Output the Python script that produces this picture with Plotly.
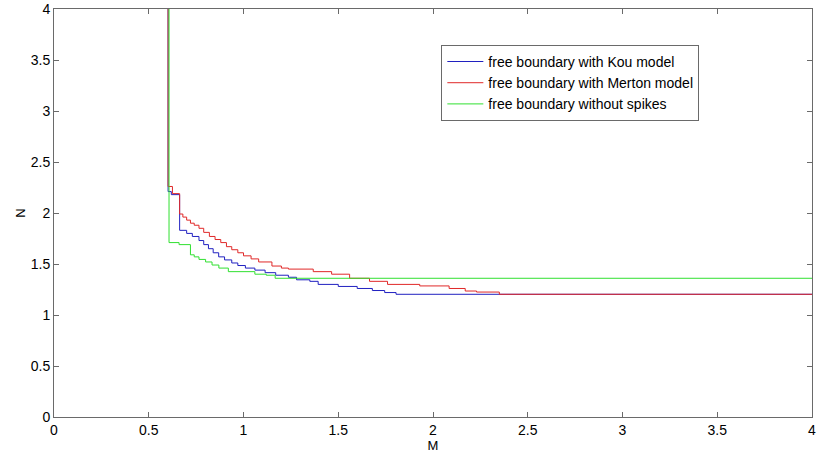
import plotly.graph_objects as go

# Kou model free boundary (step curve: x, N)
kou_m = [0.602, 0.602, 0.619, 0.663, 0.70, 0.73, 0.765, 0.79, 0.815, 0.84, 0.869, 0.90, 0.938,
         0.97, 1.01, 1.06, 1.114, 1.17, 1.237, 1.28, 1.35, 1.394, 1.50, 1.60, 1.68, 1.745, 1.805, 4.0]
kou_n = [4.3, 2.21, 2.18, 1.83, 1.80, 1.77, 1.73, 1.69, 1.65, 1.61, 1.57, 1.54, 1.51,
         1.485, 1.46, 1.44, 1.415, 1.39, 1.37, 1.345, 1.33, 1.30, 1.28, 1.26, 1.24, 1.22, 1.203, 1.203]

# Merton model free boundary
mer_m = [0.602, 0.602, 0.625, 0.663, 0.68, 0.70, 0.72, 0.74, 0.765, 0.79, 0.82, 0.85, 0.88, 0.91,
         0.938, 0.97, 1.00, 1.04, 1.08, 1.15, 1.20, 1.237, 1.368, 1.465, 1.56, 1.665, 1.76, 1.93,
         2.085, 2.17, 2.23, 2.35, 4.0]
mer_n = [4.3, 2.26, 2.19, 1.99, 1.96, 1.93, 1.90, 1.88, 1.85, 1.81, 1.77, 1.74, 1.71, 1.67,
         1.64, 1.61, 1.58, 1.55, 1.52, 1.48, 1.46, 1.45, 1.425, 1.40, 1.36, 1.33, 1.30, 1.285,
         1.26, 1.235, 1.225, 1.203, 1.203]

# Without spikes
nos_m = [0.607, 0.607, 0.66, 0.72, 0.74, 0.765, 0.80, 0.834, 0.87, 0.92, 1.06, 1.12, 1.167, 4.0]
nos_n = [4.3, 1.71, 1.69, 1.59, 1.57, 1.545, 1.52, 1.49, 1.46, 1.425, 1.40, 1.39, 1.36, 1.36]

x_ticks = [0, 0.5, 1, 1.5, 2, 2.5, 3, 3.5, 4]
x_tick_labels = ["0", "0.5", "1", "1.5", "2", "2.5", "3", "3.5", "4"]
y_ticks = [0, 0.5, 1, 1.5, 2, 2.5, 3, 3.5, 4]
y_tick_labels = ["0", "0.5", "1", "1.5", "2", "2.5", "3", "3.5", "4"]

font = "Liberation Sans, Arial, sans-serif"

fig = go.Figure()
fig.add_trace(go.Scatter(x=kou_m, y=kou_n, mode="lines", line_shape="hv",
                         line=dict(color="#2020c0", width=1),
                         name="free boundary with Kou model"))
fig.add_trace(go.Scatter(x=mer_m, y=mer_n, mode="lines", line_shape="hv",
                         line=dict(color="#e02828", width=1),
                         name="free boundary with Merton model"))
fig.add_trace(go.Scatter(x=nos_m, y=nos_n, mode="lines", line_shape="hv",
                         line=dict(color="#30e030", width=1),
                         name="free boundary without spikes"))

axis_common = dict(showgrid=False, zeroline=False, showline=True, linecolor="#6a6a6a",
                   linewidth=1, mirror="ticks", ticks="inside", ticklen=5,
                   tickcolor="#6a6a6a", tickfont=dict(family=font, size=14, color="black"),
                   automargin=False, ticklabeloverflow="allow")

fig.update_xaxes(range=[0, 4], tickvals=x_ticks, ticktext=x_tick_labels,
                 title=dict(text="M", font=dict(family=font, size=13, color="black"), standoff=0),
                 **axis_common)
fig.update_yaxes(range=[0, 4], tickvals=y_ticks, ticktext=y_tick_labels,
                 title=dict(text="N", font=dict(family=font, size=13, color="black"), standoff=2),
                 **axis_common)

fig.update_layout(
    width=817, height=455,
    margin=dict(l=54, r=5, t=9, b=38),
    plot_bgcolor="white", paper_bgcolor="white",
    font=dict(family=font, size=14, color="black"),
    legend=dict(x=0.511, y=0.912, xanchor="left", yanchor="top",
                bgcolor="white", bordercolor="#6a6a6a", borderwidth=1,
                font=dict(family=font, size=14, color="black"),
                tracegroupgap=0, itemwidth=36),
    showlegend=True,
)

fig.write_html("out.html")
